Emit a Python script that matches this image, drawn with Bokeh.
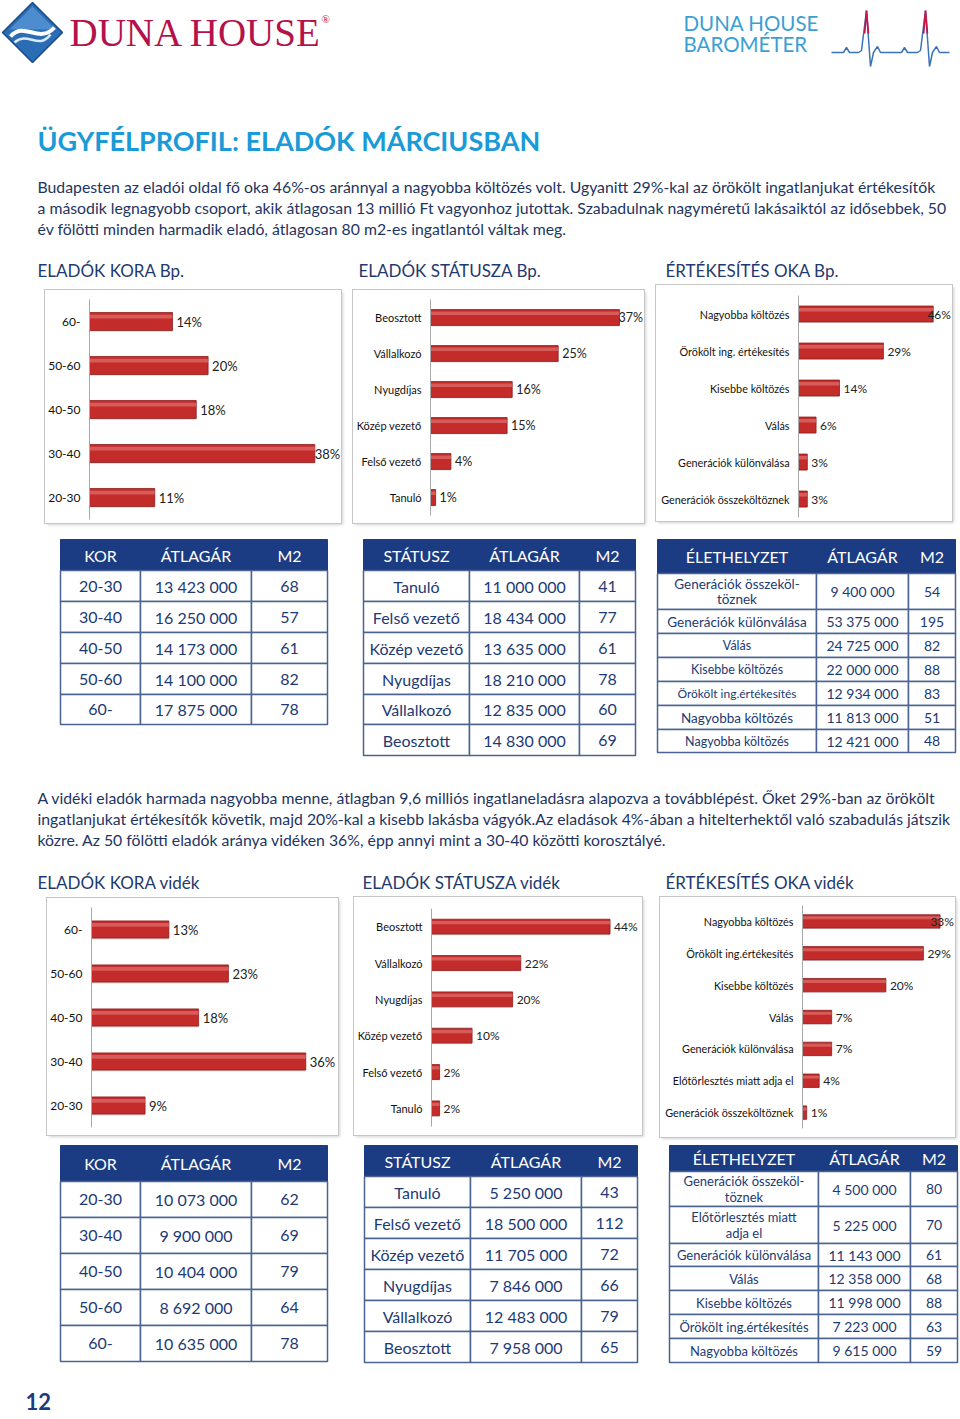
from bokeh.plotting import figure
from bokeh.models import Range1d, FactorRange, ColumnDataSource, Spacer
from bokeh.layouts import column, row
from bokeh.transform import dodge
from bokeh.core.properties import value
from bokeh.embed import file_html
from bokeh.resources import INLINE

FONT = "Lato"
NAVY = "#1b3b82"
INK = "#1e3461"
TAB_INK = "#1c3a73"
BORDER = "#4a6391"
RED = "#c42b2b"
TITLE_BLUE = "#1a9ad7"

# ---------------- data: bar charts ----------------
bp_age_cats = ["60-", "50-60", "40-50", "30-40", "20-30"]
bp_age_pct = [14, 20, 18, 38, 11]

bp_status_cats = ["Beosztott", "Vállalkozó", "Nyugdíjas", "Közép vezető", "Felső vezető", "Tanuló"]
bp_status_pct = [37, 25, 16, 15, 4, 1]

bp_reason_cats = ["Nagyobba költözés", "Örökölt ing. értékesítés", "Kisebbe költözés", "Válás",
                  "Generációk különválása", "Generációk összeköltöznek"]
bp_reason_pct = [46, 29, 14, 6, 3, 3]

vid_age_cats = ["60-", "50-60", "40-50", "30-40", "20-30"]
vid_age_pct = [13, 23, 18, 36, 9]

vid_status_cats = ["Beosztott", "Vállalkozó", "Nyugdíjas", "Közép vezető", "Felső vezető", "Tanuló"]
vid_status_pct = [44, 22, 20, 10, 2, 2]

vid_reason_cats = ["Nagyobba költözés", "Örökölt ing.értékesítés", "Kisebbe költözés", "Válás",
                   "Generációk különválása", "Előtörlesztés miatt adja el", "Generációk összeköltöznek"]
vid_reason_pct = [33, 29, 20, 7, 7, 4, 1]

# ---------------- data: tables ----------------
bp_age_head = ["KOR", "ÁTLAGÁR", "M2"]
bp_age_kor = ["20-30", "30-40", "40-50", "50-60", "60-"]
bp_age_price = ["13 423 000", "16 250 000", "14 173 000", "14 100 000", "17 875 000"]
bp_age_m2 = ["68", "57", "61", "82", "78"]

bp_st_head = ["STÁTUSZ", "ÁTLAGÁR", "M2"]
bp_st_name = ["Tanuló", "Felső vezető", "Közép vezető", "Nyugdíjas", "Vállalkozó", "Beosztott"]
bp_st_price = ["11 000 000", "18 434 000", "13 635 000", "18 210 000", "12 835 000", "14 830 000"]
bp_st_m2 = ["41", "77", "61", "78", "60", "69"]

bp_el_head = ["ÉLETHELYZET", "ÁTLAGÁR", "M2"]
bp_el_name = ["Generációk összeköl-\ntöznek", "Generációk különválása", "Válás", "Kisebbe költözés",
              "Örökölt ing.értékesítés", "Nagyobba költözés", "Nagyobba költözés"]
bp_el_price = ["9 400 000", "53 375 000", "24 725 000", "22 000 000", "12 934 000", "11 813 000", "12 421 000"]
bp_el_m2 = ["54", "195", "82", "88", "83", "51", "48"]

vid_age_head = ["KOR", "ÁTLAGÁR", "M2"]
vid_age_kor = ["20-30", "30-40", "40-50", "50-60", "60-"]
vid_age_price = ["10 073 000", "9 900 000", "10 404 000", "8 692 000", "10 635 000"]
vid_age_m2 = ["62", "69", "79", "64", "78"]

vid_st_head = ["STÁTUSZ", "ÁTLAGÁR", "M2"]
vid_st_name = ["Tanuló", "Felső vezető", "Közép vezető", "Nyugdíjas", "Vállalkozó", "Beosztott"]
vid_st_price = ["5 250 000", "18 500 000", "11 705 000", "7 846 000", "12 483 000", "7 958 000"]
vid_st_m2 = ["43", "112", "72", "66", "79", "65"]

vid_el_head = ["ÉLETHELYZET", "ÁTLAGÁR", "M2"]
vid_el_name = ["Generációk összeköl-\ntöznek", "Előtörlesztés miatt\nadja el", "Generációk különválása", "Válás",
               "Kisebbe költözés", "Örökölt ing.értékesítés", "Nagyobba költözés"]
vid_el_price = ["4 500 000", "5 225 000", "11 143 000", "12 358 000", "11 998 000", "7 223 000", "9 615 000"]
vid_el_m2 = ["80", "70", "61", "68", "88", "63", "59"]

# ---------------- texts ----------------
title = "ÜGYFÉLPROFIL:  ELADÓK MÁRCIUSBAN"
para1 = [
    "Budapesten az eladói oldal fő oka 46%-os aránnyal a nagyobba költözés volt. Ugyanitt 29%-kal az örökölt ingatlanjukat értékesítők",
    "a második legnagyobb csoport, akik átlagosan 13 millió Ft vagyonhoz jutottak. Szabadulnak nagyméretű lakásaiktól az idősebbek, 50",
    "év fölötti minden harmadik eladó, átlagosan 80 m2-es ingatlantól váltak meg.",
]
para2 = [
    "A vidéki eladók harmada nagyobba menne, átlagban 9,6 milliós ingatlaneladásra alapozva a továbblépést. Őket 29%-ban az örökölt",
    "ingatlanjukat értékesítők követik, majd 20%-kal a kisebb lakásba vágyók.Az eladások 4%-ában a hitelterhektől való szabadulás játszik",
    "közre. Az 50 fölötti eladók aránya vidéken 36%, épp annyi mint a 30-40 közötti korosztályé.",
]
heads1 = ["ELADÓK KORA Bp.", "ELADÓK STÁTUSZA Bp.", "ÉRTÉKESÍTÉS OKA Bp."]
heads2 = ["ELADÓK KORA vidék", "ELADÓK STÁTUSZA vidék", "ÉRTÉKESÍTÉS OKA vidék"]

PW = 960


# ---------------- helpers ----------------
def canvas(y0, y1):
    p = figure(width=PW, height=y1 - y0, x_range=Range1d(0, PW), y_range=Range1d(y1, y0),
               output_backend="svg", toolbar_location=None, x_axis_location=None,
               y_axis_location=None, min_border=0)
    p.outline_line_color = None
    p.xgrid.grid_line_color = None
    p.ygrid.grid_line_color = None
    p.background_fill_color = "white"
    p.border_fill_color = "white"
    return p


def txt(p, x, y, s, size, color=INK, style="normal", align="left", font=FONT, baseline="middle"):
    p.text(x=[x], y=[y], text=[s], text_font=value(font), text_font_size=value(size),
           text_color=color, text_font_style=style, text_align=align, text_baseline=baseline)


def bar_chart(cats, pcts, w, h, mbl, mbt, mbb, xmax, bar_h, lab_fs, val_fs):
    frame_w = w - mbl
    scale = frame_w / xmax
    fs = float(val_fs.replace("px", ""))
    labs = [f"{v}%" for v in pcts]
    offs = []
    for v, lab in zip(pcts, labs):
        space = frame_w - v * scale
        lw = fs * (0.58 * (len(lab) - 1) + 0.85)
        offs.append(4 if space - 4 >= lw else space - lw - 1)
    src = ColumnDataSource(dict(cat=cats, v=pcts, lab=labs, off=offs))
    p = figure(width=w, height=h, x_range=Range1d(0, xmax),
               y_range=FactorRange(factors=cats[::-1], range_padding=0),
               output_backend="svg", toolbar_location=None, x_axis_location=None,
               min_border_left=mbl, min_border_right=0, min_border_top=mbt, min_border_bottom=mbb)
    p.styles = {"outline": "1px solid #c6c6c6", "box-shadow": "2px 2px 3px rgba(0,0,0,0.18)"}
    p.outline_line_color = None
    p.xgrid.grid_line_color = None
    p.ygrid.grid_line_color = None
    p.hbar(y=dodge("cat", -0.03, range=p.y_range), right="v", left=0, height=bar_h, source=src,
           fill_color="#7a7a7a", fill_alpha=0.25, line_color=None)
    p.hbar(y="cat", right="v", left=0, height=bar_h, source=src,
           fill_color=RED, line_color="#8f1d1d", line_width=0.8)
    p.hbar(y=dodge("cat", bar_h * 0.27, range=p.y_range), right="v", left=0, height=bar_h * 0.22,
           source=src, fill_color="#e88580", fill_alpha=0.55, line_color=None)
    p.text(x="v", y="cat", text="lab", source=src, x_offset="off", text_baseline="middle",
           text_align="left", text_font=value(FONT), text_font_size=value(val_fs), text_color="#222222")
    ax = p.yaxis[0]
    ax.axis_line_color = "#a8a8a8"
    ax.major_tick_line_color = None
    ax.minor_tick_line_color = None
    ax.major_tick_out = 0
    ax.major_tick_in = 0
    ax.minor_tick_out = 0
    ax.minor_tick_in = 0
    ax.major_label_standoff = 9
    ax.major_label_text_font = FONT
    ax.major_label_text_font_size = lab_fs
    ax.major_label_text_color = "#111111"
    return p


def draw_table(p, xs, ys, header, columns, head_fs, body_fs):
    p.quad(left=[xs[0]], right=[xs[-1]], top=[ys[0]], bottom=[ys[1]], fill_color=NAVY, line_color=NAVY)
    L, R, T, B, tx, ty, tt, tf = [], [], [], [], [], [], [], []
    nrows = len(columns[0])
    for i in range(nrows):
        for j in range(len(columns)):
            L.append(xs[j]); R.append(xs[j + 1]); T.append(ys[i + 1]); B.append(ys[i + 2])
            tx.append((xs[j] + xs[j + 1]) / 2)
            ty.append((ys[i + 1] + ys[i + 2]) / 2)
            tt.append(columns[j][i])
            tf.append(body_fs[j][i] if isinstance(body_fs[j], list) else body_fs[j])
    p.quad(left=L, right=R, top=T, bottom=B, fill_color="white", line_color=BORDER, line_width=1.5)
    p.text(x=tx, y=ty, text=tt, text_font=value(FONT), text_font_size=tf, text_color=TAB_INK,
           text_align="center", text_baseline="middle", text_line_height=0.95)
    hx = [(xs[j] + xs[j + 1]) / 2 for j in range(len(header))]
    p.text(x=hx, y=[(ys[0] + ys[1]) / 2] * len(header), text=header, text_font=value(FONT),
           text_font_size=value(head_fs), text_color="white", text_align="center", text_baseline="middle")


# ---------------- top canvas (y 0..284) ----------------
top = canvas(0, 284)
top.patch(x=[32, 62, 32, 2], y=[2, 32, 62, 32], fill_color="#2a6db5", line_color="#1a4a86", line_width=1.5)
top.patch(x=[32, 55, 9], y=[6, 29, 29], fill_color="#5d9ad8", line_color=None, fill_alpha=0.7)
top.bezier(x0=[10], y0=[36], x1=[54], y1=[27], cx0=[24], cy0=[20], cx1=[38], cy1=[44],
           line_color="white", line_width=4)
top.bezier(x0=[14], y0=[42], x1=[50], y1=[34], cx0=[27], cy0=[30], cx1=[38], cy1=[50],
           line_color="#dce9f6", line_width=2.5)
txt(top, 69, 32, "DUNA HOUSE", "39px", color="#b3124a", font="Liberation Serif")
txt(top, 321, 18, "®", "11px", color="#b3124a", font="Liberation Serif")
txt(top, 683, 22, "DUNA HOUSE", "20.5px", color="#3c9fd4")
txt(top, 683, 43, "BAROMÉTER", "20.5px", color="#3c9fd4")
hb_x = [831, 843, 846, 849, 852, 858, 861, 866, 870, 873, 877, 880, 895, 901, 904, 907, 910, 917, 920, 925, 929, 932, 936, 939, 949]
hb_y = [52, 52, 47, 52, 52, 52, 50, 10, 66, 52, 46, 52, 52, 52, 47, 52, 52, 52, 50, 10, 66, 52, 46, 52, 52]
top.line(x=hb_x, y=hb_y, line_color="#3a74b8", line_width=1.5)
top.multi_line(xs=[[864.1, 866, 867.9], [923.1, 925, 926.9]], ys=[[33, 10, 33], [33, 10, 33]],
               line_color="#c4174b", line_width=1.8)
txt(top, 37, 140, title, "27px", color=TITLE_BLUE, style="bold")
for k, line in enumerate(para1):
    txt(top, 37, 186 + 21 * k, line, "15.8px")
for x, s in zip([37, 358, 665], heads1):
    txt(top, x, 270, s, "17px", color="#1f3a6e")

# ---------------- chart row 1 (y 284..530) ----------------
c1 = bar_chart(bp_age_cats, bp_age_pct, 296, 233, 41, 9, 4, 42.5, 0.41, "12px", "13px")
c2 = bar_chart(bp_status_cats, bp_status_pct, 291, 233, 75, 9, 8, 41.9, 0.44, "11px", "12.5px")
c3 = bar_chart(bp_reason_cats, bp_reason_pct, 296, 236, 142, 10, 4, 52.6, 0.43, "10.8px", "12px")


def vbox(fig, w, top_off, bottom_off):
    return column(Spacer(width=w, height=top_off), fig, Spacer(width=w, height=bottom_off))


row1 = row(Spacer(width=45, height=246), vbox(c1, 296, 6, 7), Spacer(width=12, height=246),
           vbox(c2, 291, 6, 7), Spacer(width=12, height=246), vbox(c3, 296, 1, 9),
           Spacer(width=8, height=246))

# ---------------- middle canvas (y 530..895) ----------------
mid = canvas(530, 895)
draw_table(mid, [60, 140, 251, 327], [539, 570, 601, 632, 663, 694, 724], bp_age_head,
           [bp_age_kor, bp_age_price, bp_age_m2], "16px", ["16px", "16px", "16px"])
draw_table(mid, [363, 469, 579, 635], [539, 570, 601, 632, 663, 694, 724, 755], bp_st_head,
           [bp_st_name, bp_st_price, bp_st_m2], "16px", ["16px", "16px", "16px"])
draw_table(mid, [657, 816, 908, 955], [539, 573, 609, 633, 657, 681, 705, 729, 752], bp_el_head,
           [bp_el_name, bp_el_price, bp_el_m2], "16px",
           [["13.5px", "13.5px", "12.5px", "12.5px", "12px", "13.5px", "12.5px"], "14px", "14px"])
for k, line in enumerate(para2):
    txt(mid, 37, 797 + 21 * k, line, "15.8px")
for x, s in zip([37, 362, 665], heads2):
    txt(mid, x, 882, s, "17px", color="#1f3a6e")

# ---------------- chart row 2 (y 895..1140) ----------------
c4 = bar_chart(vid_age_cats, vid_age_pct, 291, 237, 40, 9, 8, 41.5, 0.39, "12px", "13px")
c5 = bar_chart(vid_status_cats, vid_status_pct, 288, 238, 76, 11, 9, 52.0, 0.41, "11px", "12px")
c6 = bar_chart(vid_reason_cats, vid_reason_pct, 295, 240, 142, 8, 9, 36.7, 0.42, "10.8px", "12px")
row2 = row(Spacer(width=47, height=245), vbox(c4, 291, 3, 5), Spacer(width=16, height=245),
           vbox(c5, 288, 2, 5), Spacer(width=18, height=245), vbox(c6, 295, 2, 3),
           Spacer(width=5, height=245))

# ---------------- bottom canvas (y 1140..1419) ----------------
bot = canvas(1140, 1419)
draw_table(bot, [60, 140, 251, 327], [1145, 1181, 1217, 1253, 1289, 1325, 1361], vid_age_head,
           [vid_age_kor, vid_age_price, vid_age_m2], "16px", ["16px", "16px", "16px"])
draw_table(bot, [364, 470, 581, 637], [1145, 1176, 1207, 1238, 1269, 1300, 1331, 1362], vid_st_head,
           [vid_st_name, vid_st_price, vid_st_m2], "16px", ["16px", "16px", "16px"])
draw_table(bot, [669, 818, 910, 957], [1145, 1171, 1206, 1243, 1266, 1290, 1314, 1338, 1362], vid_el_head,
           [vid_el_name, vid_el_price, vid_el_m2], "16px",
           ["13px", "14px", "14px"])
txt(bot, 25, 1401, "12", "22px", color="#1b3b82", style="bold")

page = column(top, row1, mid, row2, bot)
open("out.html", "w").write(file_html(page, INLINE))
